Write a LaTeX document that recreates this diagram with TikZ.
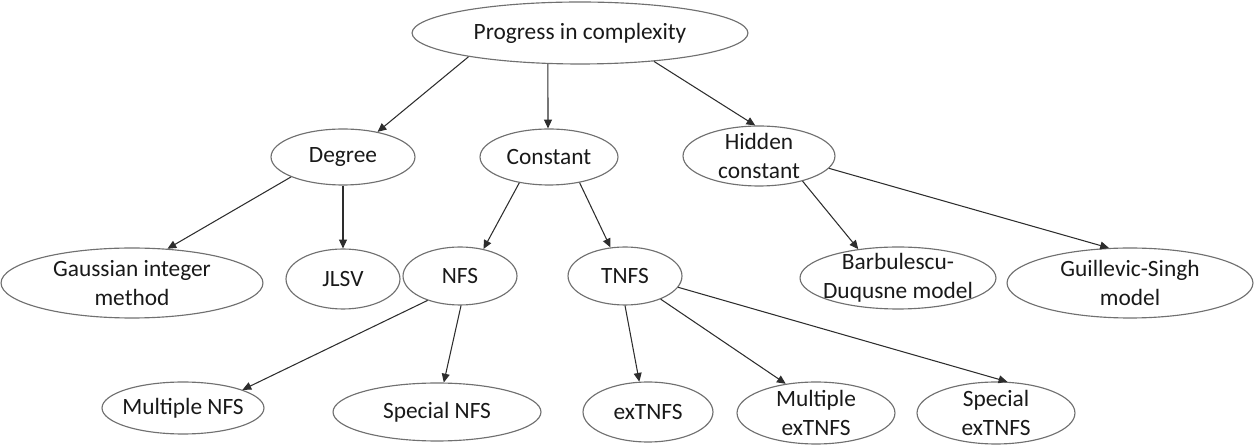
\documentclass[tikz,border=0pt]{standalone}
\usepackage{fontspec}
\setmainfont{Carlito}
\usetikzlibrary{shapes.geometric,arrows.meta}
\definecolor{ellgray}{RGB}{112,112,112}
\definecolor{arrcol}{RGB}{45,45,45}
\definecolor{txtcol}{RGB}{25,25,25}
\begin{document}
\begin{tikzpicture}[x=0.02cm,y=-0.02cm,
  ell/.style 2 args={ellipse, draw=ellgray, line width=0.65pt, inner sep=0pt,
    minimum width=#1*0.04cm, minimum height=#2*0.04cm},
  txt/.style={align=center, font=\fontsize{13.3}{16.4}\selectfont, text=txtcol, inner sep=0pt},
  arr/.style={draw=arrcol, line width=0.6pt, -{Triangle[length=5pt,width=4.5pt]}}]
\useasboundingbox (0,0) rectangle (1254,445);
\node[ell={168}{31}, label={[txt]center:Progress in complexity}] (top) at (580,33) {};
\node[ell={72}{28}, label={[txt]center:Degree}] (deg) at (343,157) {};
\node[ell={69}{28}, label={[txt]center:Constant}] (con) at (549,157) {};
\node[ell={76}{30}, label={[txt]center:{Hidden\\constant}}] (hid) at (759,156) {};
\node[ell={131}{35}, label={[txt]center:{Gaussian integer\\method}}] (gau) at (132,283) {};
\node[ell={57}{30}, label={[txt]center:JLSV}] (jls) at (343,279) {};
\node[ell={57}{29}, label={[txt]center:NFS}] (nfs) at (460,276) {};
\node[ell={57}{29}, label={[txt]center:TNFS}] (tnf) at (625,276) {};
\node[ell={98}{31}, label={[txt]center:{Barbulescu-\\Duqusne model}}] (bar) at (898,278) {};
\node[ell={123}{35}, label={[txt]center:{Guillevic-Singh\\model}}] (gui) at (1130,283) {};
\node[ell={81}{26}, label={[txt]center:Multiple NFS}] (mnf) at (183,408) {};
\node[ell={104}{29}, label={[txt]center:Special NFS}] (snf) at (437,412) {};
\node[ell={65}{30}, label={[txt]center:exTNFS}] (ext) at (648,412) {};
\node[ell={79}{31}, label={[txt]center:{Multiple\\exTNFS}}] (mex) at (816,413) {};
\node[ell={79}{31}, label={[txt]center:{Special\\exTNFS}}] (sex) at (996,413) {};
\draw[arr] (top.192) -- (deg.36);
\draw[arr] (top.224) -- (con.92);
\draw[arr] (top.339) -- (hid.97);
\draw[arr] (deg.201) -- (gau.44);
\draw[arr] (deg.south) -- (jls.north);
\draw[arr] (con.221) -- (nfs.49);
\draw[arr] (con.320) -- (tnf.117);
\draw[arr] (hid.330) -- (bar.144);
\draw[arr] (hid.350) -- (gui.121);
\draw[arr] (nfs.217) -- (mnf.17);
\draw[arr] (nfs.272) -- (snf.77);
\draw[arr] (tnf.south) -- (ext.106);
\draw[arr] (tnf.327) -- (mex.136);
\draw[arr] (tnf.348) -- (sex.70);
\end{tikzpicture}
\end{document}
